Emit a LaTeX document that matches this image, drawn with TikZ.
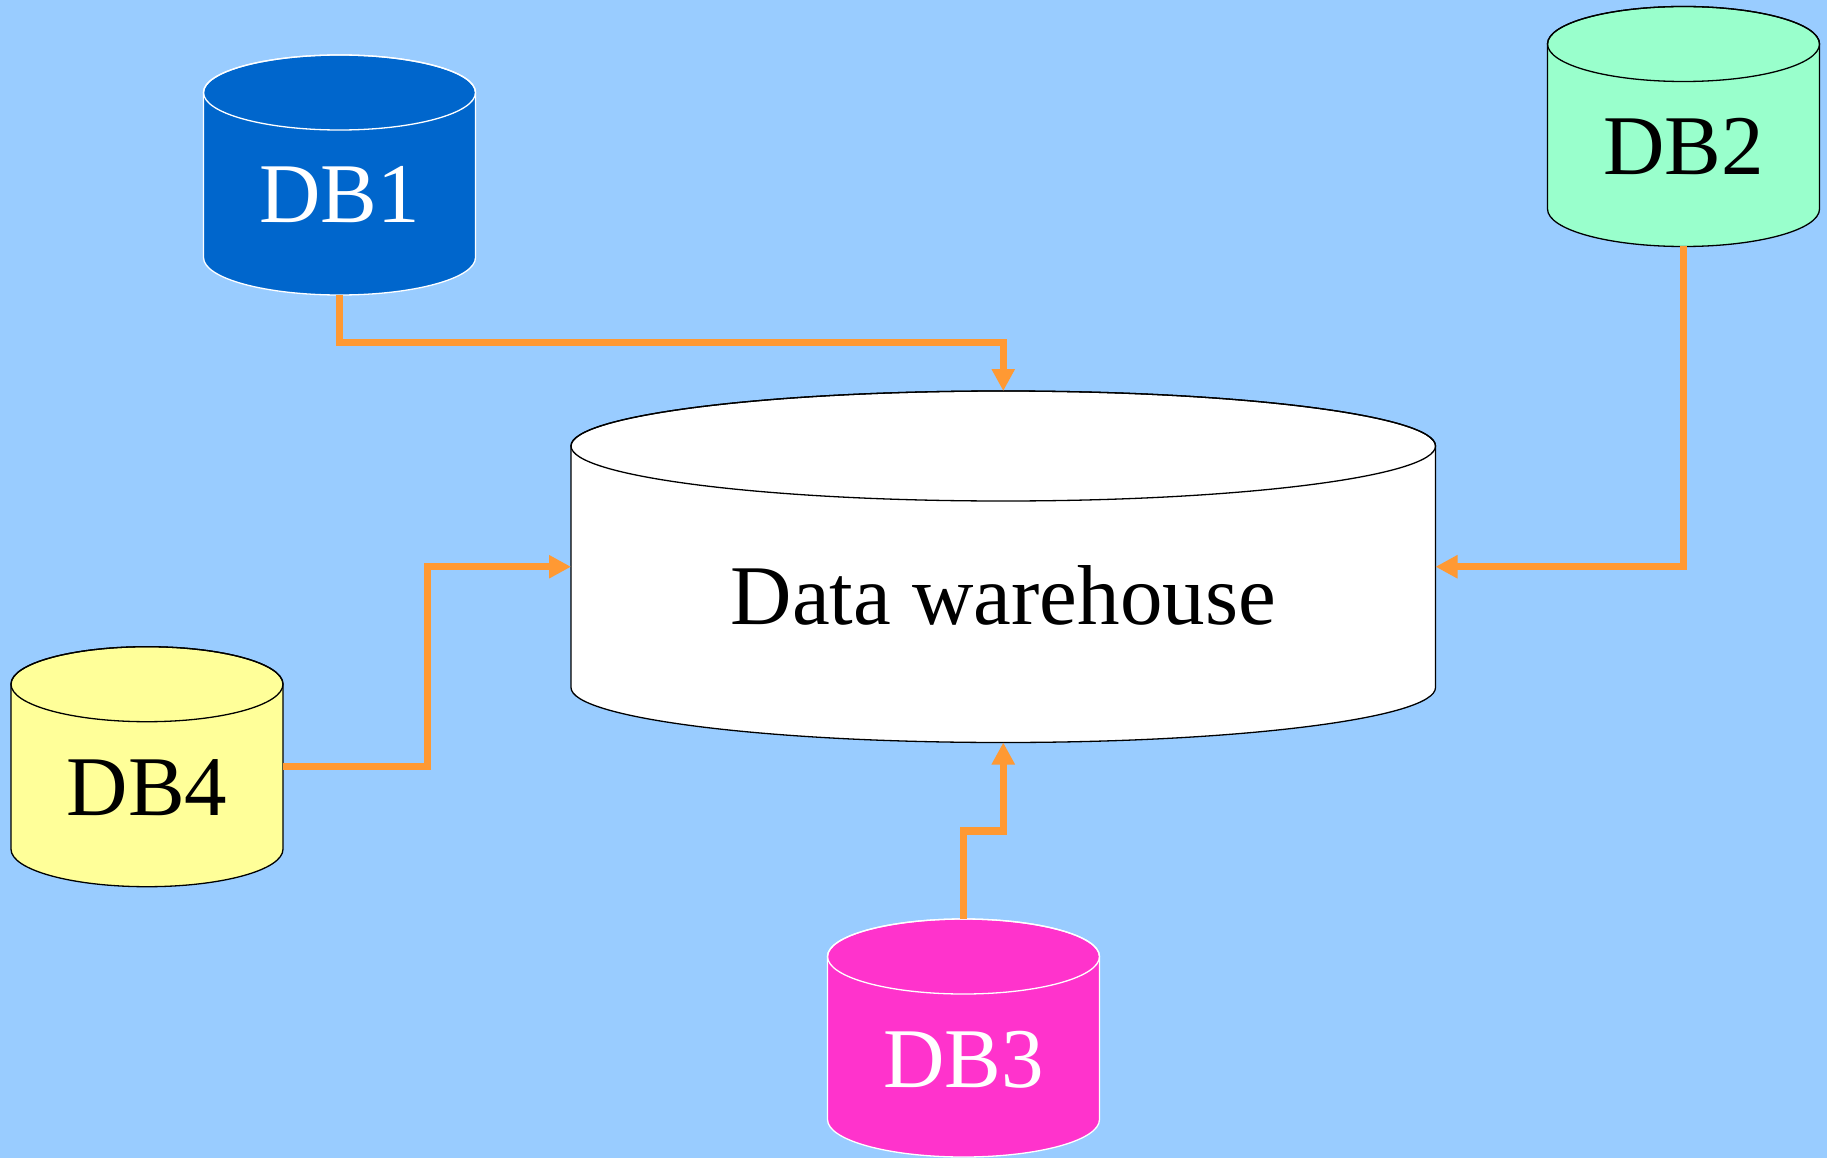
\documentclass[tikz,border=0pt]{standalone}
\usepackage{fontspec}
\setmainfont{Liberation Serif}
\usetikzlibrary{arrows.meta}
\definecolor{bgblue}{HTML}{99CCFF}
\definecolor{dbone}{HTML}{0066CC}
\definecolor{dbtwo}{HTML}{99FFCC}
\definecolor{dbthree}{HTML}{FF33CC}
\definecolor{dbfour}{HTML}{FFFF99}
\definecolor{connorange}{HTML}{FF9933}
% #1 cx, #2 top-ellipse centre y, #3 bottom-ellipse centre y, #4 rx, #5 ry, #6 fill, #7 outline
\newcommand{\mycyl}[7]{%
  \filldraw[fill=#6, draw=#7, cylline] (#1-#4,#2) -- (#1-#4,#3)
    arc[start angle=180, end angle=0, x radius=#4, y radius=#5]
    -- (#1+#4,#2)
    arc[start angle=0, end angle=-180, x radius=#4, y radius=#5] -- cycle;
  \draw[draw=#7, cylline] (#1,#2) ellipse[x radius=#4, y radius=#5];
}
\begin{document}
\begin{tikzpicture}[x=1pt, y=-1pt,
  cylline/.style={line width=1.3pt},
  box/.style={inner sep=0pt, outer sep=0pt, minimum width=#1},
  lbl/.style={anchor=base, inner sep=0pt, font=\fontsize{85}{100}\selectfont},
  conn/.style={draw=connorange, line width=7.3pt, line join=miter,
    -{Triangle[length=22pt, width=22pt]}}]
\fill[bgblue] (0,0) rectangle (1827,1158);
\useasboundingbox (0,0) rectangle (1827,1158);

% cylinders
\mycyl{339.5}{92.5}{257.5}{136}{37.5}{dbone}{white}
\mycyl{1683.5}{44}{209}{136}{37.5}{dbtwo}{black}
\mycyl{963.5}{956.5}{1119.5}{136}{37.5}{dbthree}{white}
\mycyl{147}{684.2}{849.2}{136}{37.5}{dbfour}{black}
\mycyl{1003.25}{446}{687.5}{432.25}{55}{white}{black}

% invisible nodes covering each cylinder
\node[box=272pt, minimum height=240pt] (db1) at (339.5,175) {};
\node[box=272pt, minimum height=240pt] (db2) at (1683.5,126.5) {};
\node[box=272pt, minimum height=238pt] (db3) at (963.5,1038) {};
\node[box=272pt, minimum height=240pt] (db4) at (147,766.7) {};
\node[box=864.5pt, minimum height=351.5pt] (dw) at (1003.25,566.75) {};

% labels
\node[lbl, text=white] (db1t) at (339.5,222.7) {DB1};
\node[lbl, text=black] (db2t) at (1683.5,175) {DB2};
\node[lbl, text=white] (db3t) at (963.5,1087) {DB3};
\node[lbl, text=black] (db4t) at (147,815) {DB4};
\node[lbl, text=black] (dwt) at (1003.25,624) {Data warehouse};

% bend points
\coordinate (k1) at (1003.25,342.7);
\coordinate (k3) at (1003.25,831);
\coordinate (k4) at (427.5,566.75);

% connectors
\draw[conn] (db1.south) |- (k1) -- (dw.north);
\draw[conn] (db2.south) |- (dw.east);
\draw[conn] (db3.north) |- (k3) -- (dw.south);
\draw[conn] (db4.east) -| (k4) -- (dw.west);
\end{tikzpicture}
\end{document}
